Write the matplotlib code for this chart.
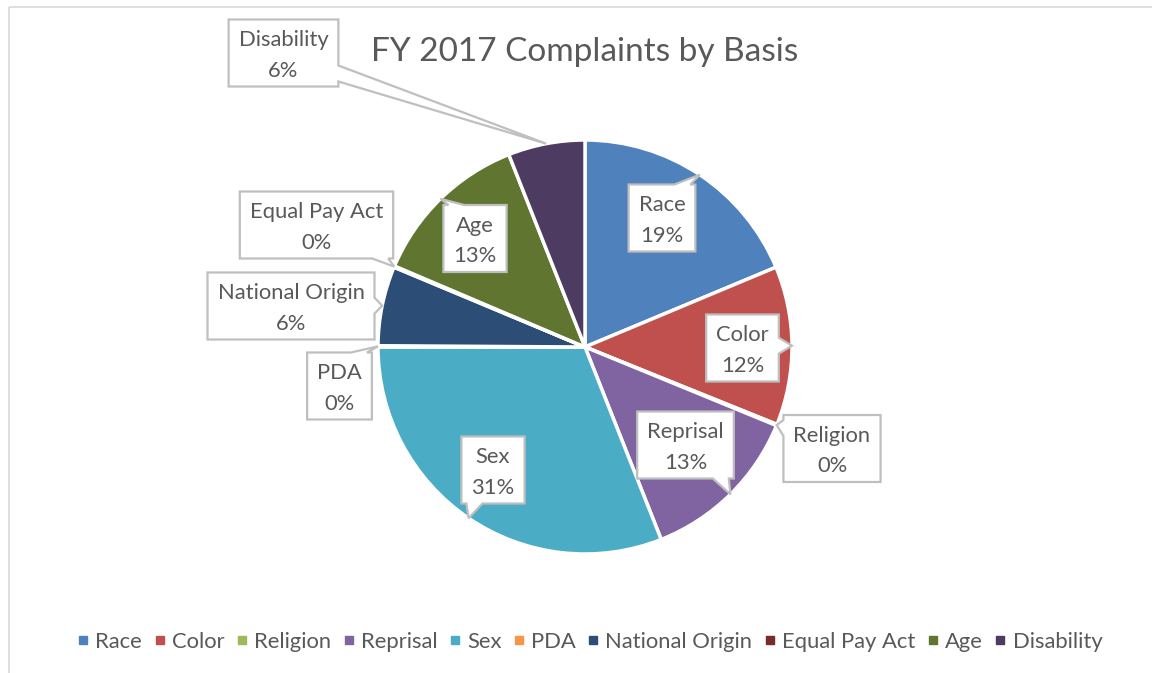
import matplotlib
matplotlib.use("Agg")
import matplotlib.pyplot as plt
from matplotlib.patches import Polygon, Rectangle
from matplotlib.lines import Line2D
import numpy as np

plt.rcParams['font.family'] = ['Lato', 'DejaVu Sans']

categories = ["Race", "Color", "Religion", "Reprisal", "Sex", "PDA",
              "National Origin", "Equal Pay Act", "Age", "Disability"]
values = [18.7, 12.4, 0.1, 12.8, 31.0, 0.1, 6.2, 0.1, 12.6, 6.0]
pct_labels = ["19%", "12%", "0%", "13%", "31%", "0%", "6%", "0%", "13%", "6%"]
title = "FY 2017 Complaints by Basis"

colors = ["#4F81BD", "#C0504D", "#9BBB59", "#8064A2", "#4BACC6", "#F79646",
          "#2C4D75", "#772C2A", "#5F7530", "#4D3B62"]

# label box centres in image pixels (layout)
label_pos = {
    "Race": (662, 218), "Color": (742.5, 348), "Religion": (832, 448.5),
    "Reprisal": (685.5, 445), "Sex": (493, 470), "PDA": (339.5, 386),
    "National Origin": (291, 306), "Equal Pay Act": (316.5, 225),
    "Age": (475, 238.5), "Disability": (283.5, 53),
}

W, H = 1152, 673
DPI = 100
TXT = "#595959"
EDGE = "#BFBFBF"
FS = 15.8

fig = plt.figure(figsize=(W / DPI, H / DPI), dpi=DPI)
fig.patch.set_facecolor("white")

# pie axes: centre (585, 347), radius 207 px
cx, cy, r = 585, 347, 207
ax = fig.add_axes([(cx - r) / W, (H - cy - r) / H, 2 * r / W, 2 * r / H])
wedges, _ = ax.pie(values, colors=colors, startangle=90, counterclock=False,
                   wedgeprops=dict(edgecolor="white", linewidth=2.5))
ax.set_xlim(-1, 1)
ax.set_ylim(-1, 1)
ax.set_aspect("equal")
ax.axis("off")

# overlay axes in image pixel coordinates
ov = fig.add_axes([0, 0, 1, 1], zorder=5)
ov.set_xlim(0, W)
ov.set_ylim(H, 0)
ov.axis("off")
ov.patch.set_alpha(0)

# chart border
ov.add_patch(Rectangle((9, 7), W + 20, H + 20, fill=False, edgecolor="#D9D9D9", lw=1.2))

ov.text(585, 52, title, ha="center", va="center", fontsize=24, color=TXT)

fig.canvas.draw()
renderer = fig.canvas.get_renderer()


def to_img(xd, yd):
    X, Y = ax.transData.transform((xd, yd))
    return X, H - Y


def callout(box, anchor, bw=16, margin=5):
    x0, y0, x1, y1 = box
    axp, ayp = anchor
    dxl = x0 - axp; dxr = axp - x1
    dyt = y0 - ayp; dyb = ayp - y1
    dx = max(dxl, dxr, 0); dy = max(dyt, dyb, 0)
    if dx == 0 and dy == 0:
        return [(x0, y0), (x1, y0), (x1, y1), (x0, y1)]
    if dx >= dy:
        lo, hi = y0 + margin + bw / 2, y1 - margin - bw / 2
        c = min(max(ayp, lo), hi)
        if dxr > 0:
            return [(x0, y0), (x1, y0), (x1, c - bw / 2), (axp, ayp), (x1, c + bw / 2), (x1, y1), (x0, y1)]
        else:
            return [(x0, y0), (x1, y0), (x1, y1), (x0, y1), (x0, c + bw / 2), (axp, ayp), (x0, c - bw / 2)]
    else:
        lo, hi = x0 + margin + bw / 2, x1 - margin - bw / 2
        c = min(max(axp, lo), hi)
        if dyb > 0:
            return [(x0, y0), (x1, y0), (x1, y1), (c + bw / 2, y1), (axp, ayp), (c - bw / 2, y1), (x0, y1)]
        else:
            return [(x0, y0), (c - bw / 2, y0), (axp, ayp), (c + bw / 2, y0), (x1, y0), (x1, y1), (x0, y1)]


for w, cat, pl in zip(wedges, categories, pct_labels):
    mid = np.deg2rad((w.theta1 + w.theta2) / 2)
    anchor = to_img(np.cos(mid), np.sin(mid))
    px, py = label_pos[cat]
    t = ov.text(px, py + 2.5, f"{cat}\n{pl}", ha="center", va="center", fontsize=FS,
                color=TXT, linespacing=1.65, zorder=7)
    bb = t.get_window_extent(renderer)
    tw = bb.width
    padx = 10
    bh = 67
    box = (px - tw / 2 - padx, py - bh / 2, px + tw / 2 + padx, py + bh / 2)
    poly = Polygon(callout(box, anchor), closed=True, facecolor="white",
                   edgecolor=EDGE, lw=1.6, zorder=6, joinstyle="miter")
    ov.add_patch(poly)

handles = [Line2D([], [], marker="s", linestyle="none", markersize=6,
                  markerfacecolor=c, markeredgecolor=c) for c in colors]
fig.legend(handles, categories, loc="center", bbox_to_anchor=(590 / W, 1 - 641.5 / H),
           ncol=len(categories), frameon=False, fontsize=FS, labelcolor=TXT,
           handlelength=0.5, handletextpad=0.3, columnspacing=0.55)

fig.savefig("out.png", dpi=DPI, facecolor="white")
